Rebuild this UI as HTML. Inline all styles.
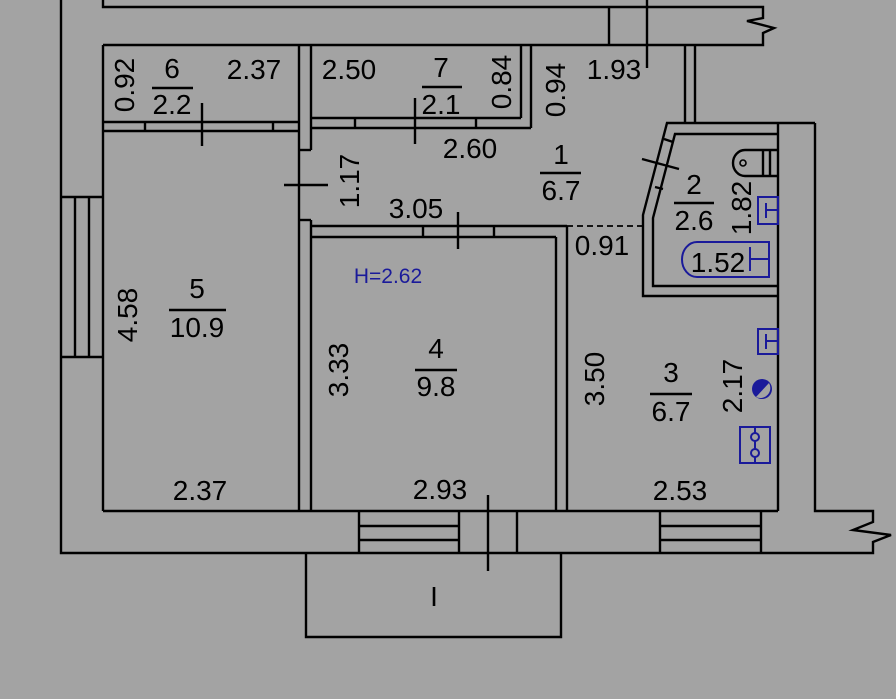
<!DOCTYPE html>
<html><head><style>html,body{margin:0;padding:0;background:#a3a3a3;}svg{display:block}</style></head>
<body>
<svg width="896" height="699" viewBox="0 0 896 699" xmlns="http://www.w3.org/2000/svg" font-family="Liberation Sans, sans-serif">
<rect width="896" height="699" fill="#a3a3a3"/>
<g stroke="#000" stroke-width="2.4" fill="none">
<polyline points="103,0 103,7 763,7 763,18 747,21 774,28 763,33 763,45 103,45"/>
<line x1="609" y1="7" x2="609" y2="45"/>
<line x1="647" y1="0" x2="647" y2="68"/>
<polyline points="61,0 61,553 873,553 873,542 891,535 853,530 873,522 873,511 815,511 815,123"/>
<line x1="61" y1="197" x2="103" y2="197"/>
<line x1="61" y1="357" x2="103" y2="357"/>
<line x1="75" y1="197" x2="75" y2="357"/>
<line x1="89" y1="197" x2="89" y2="357"/>
<line x1="103" y1="45" x2="103" y2="511"/>
<line x1="103" y1="511" x2="778" y2="511"/>
<line x1="299" y1="45" x2="299" y2="511"/>
<line x1="311" y1="45" x2="311" y2="150"/>
<line x1="311" y1="220" x2="311" y2="511"/>
<line x1="299" y1="150" x2="311" y2="150"/>
<line x1="299" y1="220" x2="311" y2="220"/>
<line x1="284" y1="185" x2="328" y2="185"/>
<line x1="103" y1="122" x2="299" y2="122"/>
<line x1="103" y1="131" x2="299" y2="131"/>
<line x1="145" y1="122" x2="145" y2="131"/>
<line x1="273" y1="122" x2="273" y2="131"/>
<line x1="202" y1="103" x2="202" y2="146"/>
<line x1="311" y1="118" x2="521" y2="118"/>
<line x1="311" y1="128" x2="531" y2="128"/>
<line x1="521" y1="45" x2="521" y2="118"/>
<line x1="531" y1="45" x2="531" y2="128"/>
<line x1="355" y1="118" x2="355" y2="128"/>
<line x1="476" y1="118" x2="476" y2="128"/>
<line x1="415" y1="98" x2="415" y2="144"/>
<line x1="685" y1="45" x2="685" y2="123"/>
<line x1="695" y1="45" x2="695" y2="123"/>
<polyline points="815,123 667,123 643,215 643,296 778,296"/>
<polyline points="778,134 675,134 653,218 653,286 778,286"/>
<line x1="778" y1="123" x2="778" y2="511"/>
<line x1="664" y1="139" x2="673" y2="142"/>
<line x1="655" y1="187" x2="663" y2="189"/>
<line x1="642" y1="159" x2="679" y2="169"/>
<line x1="567" y1="226" x2="643" y2="226" stroke-dasharray="6,4" stroke-width="1.8"/>
<line x1="311" y1="226" x2="567" y2="226"/>
<line x1="312" y1="237" x2="556" y2="237"/>
<line x1="423" y1="226" x2="423" y2="237"/>
<line x1="494" y1="226" x2="494" y2="237"/>
<line x1="458" y1="212" x2="458" y2="249"/>
<line x1="556" y1="237" x2="556" y2="511"/>
<line x1="567" y1="226" x2="567" y2="511"/>
<line x1="359" y1="511" x2="359" y2="553"/>
<line x1="459" y1="511" x2="459" y2="553"/>
<line x1="517" y1="511" x2="517" y2="553"/>
<line x1="359" y1="526" x2="459" y2="526"/>
<line x1="359" y1="540" x2="459" y2="540"/>
<line x1="488" y1="495" x2="488" y2="571"/>
<polyline points="306,553 306,637 561,637 561,553"/>
<line x1="660" y1="511" x2="660" y2="553"/>
<line x1="761" y1="511" x2="761" y2="553"/>
<line x1="660" y1="526" x2="761" y2="526"/>
<line x1="660" y1="540" x2="761" y2="540"/>
<path d="M778,150 H745 A12,13 0 0 0 745,176 H778"/>
<line x1="763" y1="150" x2="763" y2="176"/>
<line x1="770" y1="150" x2="770" y2="176"/>
<circle cx="743" cy="163" r="3" stroke-width="1.6"/>
<line x1="152" y1="88" x2="193" y2="88"/>
<line x1="422" y1="87" x2="462" y2="87"/>
<line x1="540" y1="173" x2="581" y2="173"/>
<line x1="674" y1="203" x2="714" y2="203"/>
<line x1="169" y1="310" x2="226" y2="310"/>
<line x1="415" y1="370" x2="457" y2="370"/>
<line x1="650" y1="394" x2="692" y2="394"/>
</g>
<g stroke="#1a1a9a" stroke-width="2" fill="none">
<rect x="758" y="197" width="20" height="27"/>
<line x1="766" y1="203" x2="766" y2="218"/><line x1="766" y1="210" x2="778" y2="210"/>
<path d="M769,242 H697 A15,17.5 0 0 0 697,277 H769 Z"/>
<line x1="750" y1="247" x2="750" y2="271"/><line x1="750" y1="259" x2="769" y2="259"/>
<rect x="758" y="329" width="20" height="25"/>
<line x1="766" y1="334" x2="766" y2="349"/><line x1="766" y1="341" x2="778" y2="341"/>
<rect x="740" y="427" width="30" height="36"/>
<line x1="755" y1="427" x2="755" y2="463"/>
<circle cx="755" cy="437" r="4" fill="#a3a3a3"/>
<circle cx="755" cy="453" r="4" fill="#a3a3a3"/>
</g>
<circle cx="762" cy="389" r="10" fill="#1a1a9a"/>
<path d="M756,397 L769,383 A10,10 0 0 1 756,397 Z" fill="#a3a3a3"/>
<g font-size="28" fill="#000" text-anchor="middle">
<text x="172" y="78">6</text><text x="172" y="114">2.2</text>
<text x="254" y="79">2.37</text>
<text x="349" y="79">2.50</text>
<text x="441" y="77">7</text><text x="441" y="114">2.1</text>
<text x="470" y="158">2.60</text>
<text x="614" y="79">1.93</text>
<text x="561" y="164">1</text><text x="561" y="200">6.7</text>
<text x="416" y="218">3.05</text>
<text x="602" y="255">0.91</text>
<text x="694" y="194">2</text><text x="694" y="230">2.6</text>
<text x="718" y="272">1.52</text>
<text x="197" y="298">5</text><text x="197" y="337">10.9</text>
<text x="436" y="358">4</text><text x="436" y="396">9.8</text>
<text x="671" y="382">3</text><text x="671" y="421">6.7</text>
<text x="200" y="500">2.37</text>
<text x="440" y="499">2.93</text>
<text x="680" y="500">2.53</text>
<text x="434" y="606">I</text>
<text transform="translate(134,85) rotate(-90)">0.92</text>
<text transform="translate(511,82) rotate(-90)">0.84</text>
<text transform="translate(565,90) rotate(-90)">0.94</text>
<text transform="translate(359,181) rotate(-90)">1.17</text>
<text transform="translate(751,208) rotate(-90)">1.82</text>
<text transform="translate(137,315) rotate(-90)">4.58</text>
<text transform="translate(348,370) rotate(-90)">3.33</text>
<text transform="translate(604,379) rotate(-90)">3.50</text>
<text transform="translate(742,386) rotate(-90)">2.17</text>
</g>
<text x="388" y="283" font-size="21" fill="#1a1a9a" text-anchor="middle">H=2.62</text>
</svg>
</body></html>
